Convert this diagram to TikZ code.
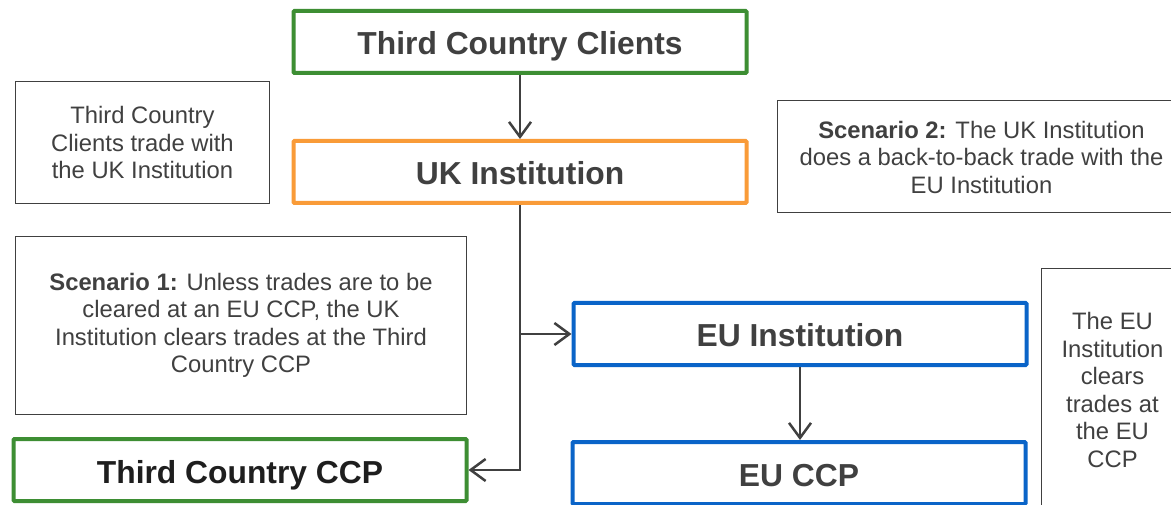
\documentclass[tikz,border=0pt]{standalone}
\usepackage{fontspec}
\setmainfont{Liberation Sans}
\usetikzlibrary{arrows.meta}
\definecolor{tgreen}{HTML}{3D8E33}
\definecolor{torange}{HTML}{F99B38}
\definecolor{tblue}{HTML}{0A64C8}
\definecolor{txt}{HTML}{404040}
\definecolor{dtxt}{HTML}{1E1E1E}
\definecolor{lncol}{HTML}{404040}
\begin{document}
\begin{tikzpicture}[x=1pt,y=-1pt,
  titlebox/.style={draw, line width=4pt, rounded corners=1pt, fill=white,
    minimum width=453pt, minimum height=62pt, inner sep=0pt,
    text height=26pt, text depth=0pt,
    font=\fontsize{31.8}{36}\selectfont\bfseries, text=txt},
  notebox/.style={draw=txt, line width=1pt, align=center, inner sep=0pt,
    font=\fontsize{23.8}{27.5}\selectfont, text=txt},
  conn/.style={draw=lncol, line width=2.5pt,
    -{Straight Barb[length=15pt,width=22pt,line width=2.5pt]}}]
\useasboundingbox (0,0) rectangle (1171,505);
\clip (0,0) rectangle (1171,505);
\fill[white] (0,0) rectangle (1171,505);

% note boxes
\node[notebox, minimum width=254pt, minimum height=122pt] (n1) at (142.5,142.5)
  {Third Country\\Clients trade with\\the UK Institution};
\node[notebox, minimum width=451pt, minimum height=178pt] (n2) at (241,325.5)
  {{\bfseries Scenario 1:} Unless trades are to be\\cleared at an EU CCP, the UK\\Institution clears trades at the Third\\Country CCP};
\node[notebox, minimum width=409pt, minimum height=112pt] (n3) at (981.5,157)
  {{\bfseries Scenario 2:} The UK Institution\\does a back-to-back trade with the\\EU Institution};
\node[notebox, minimum width=143pt, minimum height=242pt] (n4) at (1112.5,390)
  {The EU\\Institution\\clears\\trades at\\the EU\\CCP};

% title boxes
\node[titlebox, draw=tgreen] (tcc) at (520,42) {Third Country Clients};
\node[titlebox, draw=torange] (uk) at (520,172) {UK Institution};
\node[titlebox, draw=tblue] (eui) at (800,334) {EU Institution};
\node[titlebox, draw=tblue] (euccp) at (799,473) {EU CCP};
\node[titlebox, draw=tgreen, text=dtxt] (tccp) at (240,470) {Third Country CCP};

% connectors
\draw[conn] (tcc) -- (uk);
\draw[conn] (uk.south) |- (tccp.east);
\coordinate (br) at (520,334);
\draw[conn] (br) -- (eui.west);
\draw[conn] (eui.south -| 800,0) -- (euccp.north -| 800,0);
\end{tikzpicture}
\end{document}
